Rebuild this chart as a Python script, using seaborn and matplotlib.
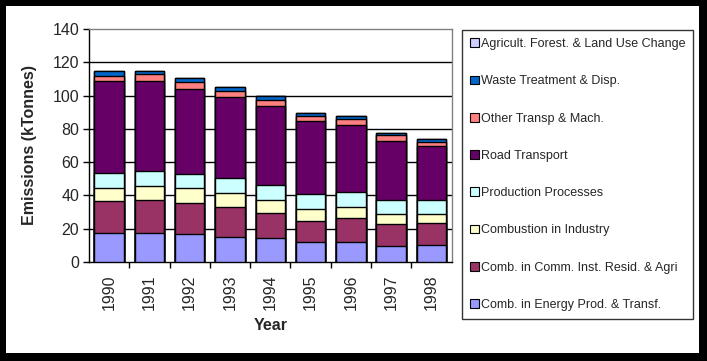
import numpy as np
import pandas as pd
import matplotlib
matplotlib.use("Agg")
import matplotlib.pyplot as plt
import seaborn as sns
from matplotlib.patches import Patch, Rectangle

years = ["1990", "1991", "1992", "1993", "1994", "1995", "1996", "1997", "1998"]

# sectors, bottom of the stack first
energy = [17.2, 17.2, 16.6, 14.8, 14.2, 11.8, 11.8, 9.4, 10.0]
comm = [19.2, 19.8, 18.6, 18.0, 15.0, 12.6, 14.4, 13.2, 13.2]
industry = [7.8, 8.4, 9.0, 8.4, 7.8, 7.2, 6.6, 6.0, 5.4]
production = [9.0, 9.0, 8.4, 9.0, 9.0, 9.0, 9.0, 8.4, 8.4]
road = [55.3, 54.1, 51.6, 49.2, 48.0, 44.2, 40.8, 36.0, 32.4]
other_transp = [3.4, 4.2, 4.2, 3.6, 3.6, 3.0, 3.4, 3.4, 3.0]
waste = [2.6, 1.8, 2.0, 2.0, 2.4, 2.0, 2.0, 1.4, 1.4]
agri = [0.0, 0.4, 0.0, 0.0, 0.0, 0.0, 0.0, 0.0, 0.0]

sectors = [
    ("Comb. in Energy Prod. & Transf.", energy, "#9999FF"),
    ("Comb. in Comm. Inst. Resid. & Agri", comm, "#993366"),
    ("Combustion in Industry", industry, "#FFFFCC"),
    ("Production Processes", production, "#CCFFFF"),
    ("Road Transport", road, "#660066"),
    ("Other Transp & Mach.", other_transp, "#FF8080"),
    ("Waste Treatment & Disp.", waste, "#0066CC"),
    ("Agricult. Forest. & Land Use Change", agri, "#CCCCFF"),
]

sns.set_style("white")
plt.rcParams["font.family"] = ["Liberation Sans", "DejaVu Sans"]

W, H = 707, 361
fig = plt.figure(figsize=(W / 100, H / 100), dpi=100, facecolor="black")
fig.patches.append(Rectangle((6 / W, 1 - 353 / H), 693 / W, 347 / H,
                             transform=fig.transFigure, facecolor="white",
                             edgecolor="none", zorder=-5))

ax = fig.add_axes([89 / W, 1 - 262 / H, 362.5 / W, 233 / H])
ax.set_zorder(2)

# cumulative totals, drawn tallest first so each layer covers the one above
df = pd.DataFrame({"Year": years})
cum = np.zeros(len(years))
layers = []
for name, vals, color in sectors:
    cum = cum + np.array(vals)
    layers.append((name, cum.copy(), color))

for name, tops, color in reversed(layers):
    df["top"] = tops
    sns.barplot(data=df, x="Year", y="top", color=color, width=0.73,
                saturation=1, edgecolor="black", linewidth=1, ax=ax, zorder=3)

ax.set_ylim(0, 140)
ax.set_xlim(-0.5, len(years) - 0.5)
ax.set_yticks(range(0, 141, 20))
ax.tick_params(axis="y", labelsize=11.5, length=4, width=1, color="black",
               direction="out", left=True, pad=3)
ax.set_xticks(range(len(years)))
ax.set_xticklabels(years, rotation=90, fontsize=11.5)
ax.tick_params(axis="x", which="major", length=0, pad=9)
ax.set_xticks(np.arange(0.5, len(years) - 0.5, 1), minor=True)
ax.tick_params(axis="x", which="minor", length=4, width=1, color="black",
               direction="out", bottom=True)

for v in range(20, 140, 20):
    ax.axhline(v, color="black", linewidth=1, zorder=1)

for s in ["left", "bottom"]:
    ax.spines[s].set_color("black")
    ax.spines[s].set_linewidth(1)
for s in ["top", "right"]:
    ax.spines[s].set_color("#808080")
    ax.spines[s].set_linewidth(1)

ax.set_xlabel("Year", fontsize=11.5, fontweight="bold", labelpad=6)
ax.set_ylabel("Emissions (kTonnes)", fontsize=11.5, fontweight="bold", labelpad=11)

handles = [Patch(facecolor=c, edgecolor="black", linewidth=0.8, label=n)
           for n, v, c in reversed(sectors)]
leg = fig.legend(handles=handles, loc="upper left",
                 bbox_to_anchor=(462 / W, 1 - 30 / H), bbox_transform=fig.transFigure,
                 frameon=True, fancybox=False, fontsize=9,
                 handlelength=0.7, handleheight=0.7, handletextpad=0.15,
                 labelspacing=2.02, borderpad=0.65, borderaxespad=0)
leg.get_frame().set_edgecolor("black")
leg.get_frame().set_linewidth(1)
leg.get_frame().set_facecolor("white")

fig.savefig("out.png", dpi=100, facecolor=fig.get_facecolor())
